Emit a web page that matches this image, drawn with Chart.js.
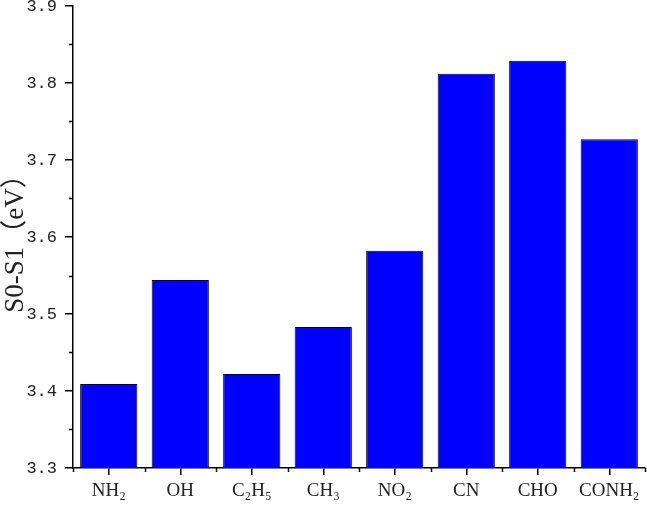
<!DOCTYPE html>
<html>
<head>
<meta charset="utf-8">
<script src="https://cdn.jsdelivr.net/npm/chart.js@4"></script>
<style>
  body { margin: 0; background: #fff; }
  canvas { display: block; }
</style>
</head>
<body>
<canvas id="chart" width="647" height="506"></canvas>
<script>
const groups = ["NH₂", "OH", "C₂H₅", "CH₃", "NO₂", "CN", "CHO", "CONH₂"];
const gapValues = [3.409, 3.544, 3.422, 3.483, 3.582, 3.812, 3.829, 3.727];
const yTicks = [3.3, 3.4, 3.5, 3.6, 3.7, 3.8, 3.9];
const yMinorTicks = [3.35, 3.45, 3.55, 3.65, 3.75, 3.85];

// minor ticks: short outward marks between the major ones
const minorTicks = {
  id: 'minorTicks',
  afterDraw(chart) {
    const ctx = chart.ctx;
    const x = chart.scales.x;
    const y = chart.scales.y;
    ctx.save();
    ctx.strokeStyle = '#000';
    ctx.lineWidth = 1.5;
    ctx.beginPath();
    yMinorTicks.forEach(v => {
      const py = Math.round(y.getPixelForValue(v)) + 0.5;
      ctx.moveTo(y.right - 4, py);
      ctx.lineTo(y.right, py);
    });
    for (let i = 0; i <= groups.length; i++) {
      const px = Math.round(x.getPixelForValue(i - 0.5)) + 0.5;
      ctx.moveTo(px, x.top);
      ctx.lineTo(px, x.top + 4);
    }
    ctx.stroke();
    ctx.restore();
  }
};

new Chart(document.getElementById('chart'), {
  type: 'bar',
  data: {
    labels: groups,
    datasets: [{
      data: gapValues,
      backgroundColor: '#0000ff',
      borderColor: '#000',
      borderWidth: 1,
      barPercentage: 0.8,
      categoryPercentage: 1.0
    }]
  },
  options: {
    responsive: false,
    animation: false,
    layout: { padding: { top: 6, right: 2, left: 0, bottom: 0 } },
    plugins: { legend: { display: false }, tooltip: { enabled: false } },
    scales: {
      x: {
        afterFit: s => { s.height = 38; s.paddingLeft = 0; s.paddingRight = 0; },
        border: { color: '#000', width: 1.5 },
        grid: { offset: false, drawOnChartArea: false, color: '#000', tickLength: 7, lineWidth: 1.5 },
        ticks: {
          color: '#222',
          padding: 5,
          maxRotation: 0,
          font: { family: "'Liberation Serif', serif", size: 19 }
        }
      },
      y: {
        min: 3.3,
        max: 3.9,
        afterFit: s => { s.width = 73; s.paddingTop = 0; s.paddingBottom = 0; },
        afterBuildTicks: s => { s.ticks = yTicks.map(v => ({ value: v })); },
        border: { color: '#000', width: 1.5 },
        grid: { drawOnChartArea: false, color: '#000', tickLength: 8, lineWidth: 1.5 },
        ticks: {
          color: '#222',
          padding: 8,
          font: { family: "'Liberation Mono', monospace", size: 17 },
          callback: v => v.toFixed(1)
        },
        title: {
          display: true,
          text: 'S0-S1（eV）',
          color: '#222',
          padding: { top: 0, bottom: 0 },
          font: { family: "'Liberation Serif', 'Noto Sans CJK SC', serif", size: 27 }
        }
      }
    }
  },
  plugins: [minorTicks]
});
</script>
</body>
</html>
